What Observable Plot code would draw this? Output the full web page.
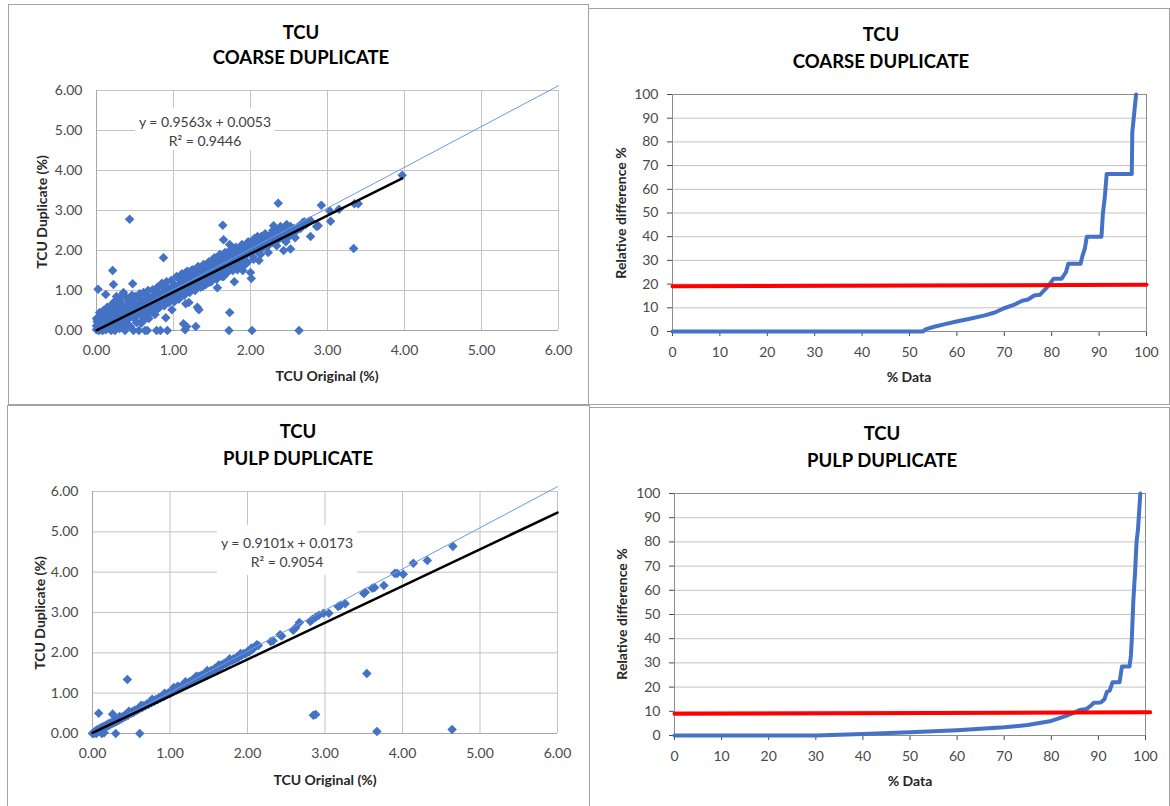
<!DOCTYPE html>
<html>
<head>
<meta charset="utf-8">
<script src="https://cdn.jsdelivr.net/npm/d3@7"></script>
<script src="https://cdn.jsdelivr.net/npm/@observablehq/plot@0.6"></script>
<style>
  body { margin: 0; background: #fff; font-family: Lato, "Open Sans", sans-serif; }
  #page { position: relative; width: 1170px; height: 806px; overflow: hidden; background: #fff; }
  .panel { position: absolute; border: 1px solid #a3a3a3; box-sizing: border-box; background: #fff; }
  .chart { position: absolute; }
  .chart svg { display: block; }
  .txt { position: absolute; white-space: nowrap; transform: translate(-50%, -50%); }
  .title { font-weight: bold; font-size: 18.5px; color: #000; }
  .axis-title { font-weight: bold; font-size: 14px; color: #262626; }
  .rot { transform: translate(-50%, -50%) rotate(-90deg); }
  .eq { position: absolute; background: #fff; color: #404040; font-size: 14px; line-height: 19px; text-align: center; box-sizing: border-box; }
</style>
</head>
<body>
<div id="page"></div>
<script>
// ---- scatter: TCU original vs duplicate (%) ----
const scatterTicks = [0, 1, 2, 3, 4, 5, 6];

// coarse duplicate pairs [original, duplicate]
const coarsePairs = [
  [0.00,0.02],[0.00,0.12],[0.00,0.30],[0.01,0.10],[0.01,0.22],[0.02,0.05],[0.02,0.25],[0.02,1.03],[0.03,0.15],[0.03,0.00],
  [0.04,0.32],[0.05,0.08],[0.05,0.20],[0.06,0.02],[0.07,0.12],[0.08,0.28],[0.08,0.00],[0.09,0.18],[0.10,0.05],[0.10,0.35],
  [0.11,0.14],[0.12,0.22],[0.12,0.02],[0.12,0.90],[0.13,0.30],[0.14,0.10],[0.15,0.18],[0.15,0.40],[0.16,0.05],[0.17,0.25],
  [0.18,0.12],[0.18,0.33],[0.19,0.00],[0.20,0.20],[0.21,0.28],[0.21,1.50],[0.22,0.08],[0.22,0.42],[0.22,1.15],[0.23,0.18],
  [0.24,0.30],[0.24,0.00],[0.25,0.55],[0.26,0.22],[0.27,0.38],[0.28,0.12],[0.28,0.62],[0.29,0.30],[0.30,0.45],[0.30,0.05],
  [0.31,0.25],[0.32,0.35],[0.32,0.70],[0.33,0.15],[0.34,0.42],[0.35,0.30],[0.35,0.95],[0.36,0.52],[0.37,0.22],[0.37,0.00],
  [0.38,0.40],[0.39,0.60],[0.40,0.35],[0.40,0.48],[0.41,0.28],[0.42,0.55],[0.42,0.75],[0.43,0.40],[0.43,2.78],[0.44,0.10],
  [0.45,0.50],[0.45,0.62],[0.46,0.35],[0.47,0.45],[0.47,1.17],[0.48,0.58],[0.48,0.00],[0.49,0.30],[0.50,0.52],[0.50,0.68],
  [0.51,0.45],[0.52,0.20],[0.53,0.55],[0.54,0.62],[0.55,0.48],[0.55,0.82],[0.55,0.00],[0.57,0.58],[0.58,0.40],[0.58,0.70],
  [0.59,0.52],[0.60,0.60],[0.60,0.25],[0.61,0.75],[0.62,0.55],[0.63,0.65],[0.63,0.00],[0.64,0.45],[0.65,0.70],[0.66,0.62],
  [0.66,0.00],[0.67,0.85],[0.68,0.58],[0.68,0.30],[0.69,0.72],[0.70,0.65],[0.71,0.80],[0.72,0.68],[0.73,0.50],[0.74,0.75],
  [0.75,0.90],[0.75,0.62],[0.76,0.40],[0.77,0.78],[0.78,0.70],[0.78,0.00],[0.79,0.85],[0.80,0.75],[0.80,0.55],[0.81,0.95],
  [0.82,0.80],[0.83,0.72],[0.83,0.00],[0.84,0.88],[0.85,0.82],[0.85,1.18],[0.86,0.65],[0.87,0.92],[0.87,1.82],[0.88,0.85],
  [0.89,1.00],[0.90,0.78],[0.90,0.32],[0.91,0.95],[0.92,0.88],[0.92,0.00],[0.93,1.05],[0.94,0.90],[0.95,0.98],[0.96,0.82],
  [0.97,1.02],[0.98,0.95],[0.98,0.52],[0.99,1.10],[1.00,0.92],[1.00,1.00],[1.01,1.15],[1.02,0.98],[1.03,1.05],[1.04,0.85],
  [1.05,1.12],[1.06,1.00],[1.07,1.30],[1.08,1.05],[1.09,1.18],[1.10,1.08],[1.10,0.90],[1.11,1.25],[1.12,1.12],[1.13,1.35],
  [1.13,0.17],[1.14,1.05],[1.15,1.20],[1.15,0.02],[1.16,1.45],[1.16,0.67],[1.17,1.15],[1.17,0.10],[1.18,1.28],[1.19,1.02],
  [1.20,1.22],[1.20,0.70],[1.21,1.35],[1.22,1.18],[1.23,1.50],[1.24,1.25],[1.25,1.10],[1.26,1.30],[1.27,1.42],[1.28,1.22],
  [1.29,1.35],[1.29,0.10],[1.30,1.28],[1.31,1.48],[1.31,0.58],[1.32,1.18],[1.33,1.32],[1.33,0.52],[1.34,1.40],[1.35,1.25],
  [1.36,1.50],[1.37,1.38],[1.38,1.10],[1.39,1.45],[1.40,1.35],[1.41,1.52],[1.42,1.42],[1.43,1.30],[1.44,1.55],[1.45,1.48],
  [1.46,1.20],[1.47,1.60],[1.48,1.45],[1.49,1.72],[1.50,1.52],[1.50,1.38],[1.51,1.62],[1.52,1.48],[1.53,1.75],[1.54,1.55],
  [1.55,1.40],[1.56,1.68],[1.57,1.58],[1.57,1.07],[1.58,1.80],[1.59,1.62],[1.60,1.50],[1.61,1.72],[1.62,1.85],[1.63,1.65],
  [1.64,1.55],[1.64,2.63],[1.65,1.78],[1.65,2.27],[1.65,1.35],[1.66,1.68],[1.67,1.40],[1.68,1.75],[1.70,1.82],[1.71,1.65],
  [1.72,1.90],[1.72,0.00],[1.73,0.45],[1.73,2.15],[1.74,1.75],[1.75,1.60],[1.76,1.85],[1.78,1.78],[1.79,1.95],[1.79,1.22],
  [1.80,1.70],[1.82,1.88],[1.83,1.52],[1.84,1.80],[1.85,2.00],[1.87,1.90],[1.88,1.75],[1.90,2.05],[1.90,1.50],[1.91,1.92],
  [1.92,1.82],[1.94,2.10],[1.95,1.98],[1.96,1.70],[1.98,2.05],[2.00,1.95],[2.00,2.20],[2.00,1.45],[2.01,1.30],[2.02,0.00],
  [2.02,2.08],[2.03,1.85],[2.05,2.30],[2.06,2.15],[2.08,2.00],[2.10,2.22],[2.11,1.75],[2.12,2.12],[2.14,2.35],[2.15,2.05],
  [2.17,2.25],[2.18,2.18],[2.20,2.30],[2.22,2.10],[2.24,2.25],[2.26,2.40],[2.28,2.20],[2.30,2.62],[2.31,2.30],[2.33,2.45],
  [2.35,2.25],[2.36,3.18],[2.37,2.55],[2.38,2.38],[2.40,2.48],[2.42,2.30],[2.43,2.00],[2.44,2.58],[2.45,2.40],[2.47,2.65],
  [2.48,2.50],[2.50,2.35],[2.52,2.60],[2.52,2.04],[2.54,2.45],[2.56,2.55],[2.58,2.32],[2.60,2.50],[2.62,2.60],[2.63,0.00],
  [2.65,2.55],[2.68,2.70],[2.70,2.72],[2.72,2.65],[2.75,2.72],[2.78,2.75],[2.78,2.35],[2.86,2.60],[2.88,2.62],[2.92,3.13],
  [3.03,2.99],[3.04,2.73],[3.15,3.03],[3.34,2.05],[3.35,3.17],[3.40,3.17],[3.97,3.88],
  [0.04,0.45],[0.06,0.38],[0.09,0.50],[0.14,0.58],[0.17,0.48],[0.20,0.65],[0.23,0.72],[0.26,0.85],[0.29,0.78],[0.31,0.58],
  [0.33,0.88],[0.36,0.12],[0.39,0.82],[0.41,0.15],[0.44,0.78],[0.46,0.88],[0.50,0.85],[0.52,0.35],[0.56,0.92],[0.58,0.18],
  [0.61,0.95],[0.64,0.30],[0.67,1.00],[0.70,0.45],[0.73,1.02],[0.76,0.55],[0.79,1.08],[0.82,0.58],[0.86,1.10],[0.88,0.62],
  [0.91,1.22],[0.94,0.70],[0.97,1.25],[1.01,0.72],[1.04,1.35],[1.07,0.78],[1.11,1.42],[1.14,0.88],[1.18,1.48],[1.21,0.95],
  [1.25,1.52],[1.28,1.00],[1.32,1.60],[1.35,1.08],[1.39,1.65],[1.42,1.15],[1.46,1.72],[1.49,1.22],[1.53,1.82],[1.56,1.28],
  [1.60,1.90],[1.63,1.35],[1.67,1.95],[1.70,1.45],[1.74,2.02],[1.77,1.50],[1.81,2.08],[1.86,1.60],[1.89,2.15],[1.93,1.65],
  [1.97,2.22],[2.04,1.78],[2.09,2.35],[2.13,1.90],[2.19,2.42],[2.23,1.95],[2.29,2.50],[2.34,2.12],[2.39,2.60],[2.46,2.22]
];

// pulp duplicate pairs [original, duplicate]
const pulpPairs = [
  [0.00,0.00],[0.01,0.02],[0.02,0.00],[0.03,0.05],[0.04,0.03],[0.05,0.08],[0.05,0.00],[0.06,0.04],[0.07,0.10],[0.08,0.06],
  [0.08,0.50],[0.09,0.12],[0.10,0.09],[0.11,0.14],[0.12,0.10],[0.12,0.00],[0.13,0.16],[0.14,0.13],[0.15,0.18],[0.15,0.02],
  [0.16,0.14],[0.17,0.20],[0.18,0.17],[0.19,0.22],[0.20,0.19],[0.21,0.25],[0.22,0.21],[0.24,0.27],[0.25,0.24],[0.26,0.48],
  [0.27,0.30],[0.28,0.27],[0.30,0.33],[0.30,0.00],[0.31,0.30],[0.33,0.36],[0.34,0.33],[0.36,0.39],[0.37,0.36],[0.39,0.42],
  [0.40,0.40],[0.42,0.46],[0.43,0.42],[0.45,0.49],[0.45,1.34],[0.46,0.45],[0.48,0.52],[0.50,0.50],[0.52,0.55],[0.53,0.52],
  [0.55,0.58],[0.57,0.57],[0.59,0.62],[0.60,0.60],[0.61,0.00],[0.62,0.65],[0.64,0.64],[0.66,0.69],[0.68,0.68],[0.70,0.73],
  [0.72,0.72],[0.74,0.77],[0.76,0.76],[0.78,0.81],[0.80,0.80],[0.82,0.85],[0.84,0.84],[0.86,0.89],[0.88,0.88],[0.90,0.93],
  [0.92,0.92],[0.94,0.97],[0.96,0.96],[0.98,1.01],[1.00,0.99],[1.02,1.05],[1.04,1.04],[1.06,1.10],[1.08,1.08],[1.10,1.17],
  [1.11,1.12],[1.13,1.16],[1.15,1.15],[1.17,1.20],[1.19,1.19],[1.21,1.24],[1.23,1.23],[1.25,1.28],[1.27,1.27],[1.29,1.33],
  [1.31,1.31],[1.33,1.36],[1.35,1.35],[1.37,1.42],[1.39,1.40],[1.41,1.45],[1.43,1.43],[1.45,1.48],[1.47,1.47],[1.49,1.52],
  [1.51,1.51],[1.53,1.56],[1.55,1.55],[1.58,1.62],[1.60,1.60],[1.62,1.66],[1.64,1.65],[1.66,1.70],[1.68,1.69],[1.70,1.74],
  [1.72,1.73],[1.74,1.78],[1.76,1.77],[1.78,1.82],[1.80,1.81],[1.82,1.85],[1.84,1.84],[1.86,1.89],[1.88,1.88],[1.90,1.93],
  [1.92,1.93],[1.95,1.98],[1.97,1.97],[2.00,2.03],[2.02,2.02],[2.04,2.07],[2.06,2.08],[2.08,2.12],[2.10,2.15],[2.12,2.20],
  [2.14,2.18],[2.30,2.28],[2.33,2.30],[2.42,2.45],[2.44,2.42],[2.59,2.56],[2.62,2.62],[2.67,2.75],[2.81,2.78],[2.84,2.83],
  [2.85,0.45],[2.88,2.88],[2.88,0.47],[2.92,2.93],[2.98,2.98],[3.05,2.98],[3.17,3.15],[3.20,3.18],[3.26,3.22],[3.50,3.47],
  [3.52,3.50],[3.54,1.49],[3.61,3.60],[3.64,3.62],[3.67,0.05],[3.76,3.67],[3.90,3.97],[3.93,3.97],[4.01,3.95],[4.14,4.22],
  [4.32,4.29],[4.64,0.10],[4.65,4.64],
  [0.35,0.42],[0.47,0.55],[0.63,0.70],[0.77,0.85],[0.93,1.00],[1.05,1.14],[1.20,1.28],[1.34,1.42],[1.48,1.56],[1.63,1.70],
  [1.77,1.85],[1.91,1.98],[2.05,2.12]
];

// 1:1 reference line and least-squares fits (from the printed equations)
const parityX = [0, 6];
const parityY = [0, 6.12];
const coarseFit = { slope: 0.9563, intercept: 0.0053, r2: 0.9446, xMax: 3.97 };
const pulpFit   = { slope: 0.9101, intercept: 0.0173, r2: 0.9054, xMax: 6.0 };

// ---- cumulative relative difference curves ----
const pctTicks = [0, 10, 20, 30, 40, 50, 60, 70, 80, 90, 100];

const coarsePctData = [0, 52.8, 53.5, 55.2, 57.5, 59.9, 62.5, 65.9, 68, 69.8, 72, 73.8, 75, 76.3, 77.5, 78.7, 79.5, 80.4, 82.1, 83, 83.5, 86.1, 86.5, 87, 87.4, 90.5, 90.8, 91.2, 91.6, 96.9, 97, 97.3, 97.8];
const coarseRelDiff = [0, 0, 1, 2, 3.1, 4.2, 5.3, 6.8, 8, 9.7, 11.2, 13, 13.5, 15.2, 15.5, 18, 19.8, 22.3, 22.3, 25, 28.6, 28.6, 32, 35, 40, 40, 49.8, 56.5, 66.5, 66.5, 84, 90, 100];
const coarseLimitX = [0, 100];
const coarseLimitY = [19.1, 19.7];

const pulpPctData = [0, 30, 40, 50, 60, 70, 75, 80, 83, 85.5, 86, 87.5, 88.5, 89, 90.5, 91.3, 91.8, 92.4, 93, 94.5, 95, 96.6, 96.9, 97.1, 97.4, 97.8, 98.1, 98.4, 98.9];
const pulpRelDiff = [0, 0, 0.6, 1.3, 2.2, 3.4, 4.3, 6.0, 8, 10, 10.5, 11, 12.5, 13.5, 13.6, 15, 18, 18.5, 22, 22, 28.5, 28.5, 33, 40, 55, 68, 80, 85, 100];
const pulpLimitX = [0, 101];
const pulpLimitY = [9.0, 9.6];

const BLUE = "#4472C4";
const page = document.getElementById("page");

function addPanel(left, top, width, height) {
  const d = document.createElement("div");
  d.className = "panel";
  Object.assign(d.style, { left: left + "px", top: top + "px", width: width + "px", height: height + "px" });
  page.appendChild(d);
}
function addText(text, cx, cy, cls) {
  const d = document.createElement("div");
  d.className = "txt " + cls;
  d.textContent = text;
  Object.assign(d.style, { left: cx + "px", top: cy + "px" });
  page.appendChild(d);
}
function addChart(svg, left, top) {
  const d = document.createElement("div");
  d.className = "chart";
  Object.assign(d.style, { left: left + "px", top: top + "px" });
  d.appendChild(svg);
  page.appendChild(d);
}
function addEquation(fit, left, top, width, height, padTop) {
  const d = document.createElement("div");
  d.className = "eq";
  Object.assign(d.style, { left: left + "px", top: top + "px", width: width + "px", height: height + "px", paddingTop: padTop + "px" });
  d.innerHTML = `y = ${fit.slope.toFixed(4)}x + ${fit.intercept.toFixed(4)}<br>R² = ${fit.r2.toFixed(4)}`;
  page.appendChild(d);
}

const baseStyle = { fontFamily: "Lato, 'Open Sans', sans-serif", fontSize: "14px", color: "#4a4a4a", background: "transparent", overflow: "visible" };

function scatterChart(pairs, fit, m) {
  const fitLine = [[0, fit.intercept], [fit.xMax, fit.slope * fit.xMax + fit.intercept]];
  const parity = parityX.map((x, i) => [x, parityY[i]]);
  return Plot.plot({
    width: m.width, height: m.height,
    marginLeft: m.left, marginRight: m.right, marginTop: m.top, marginBottom: m.bottom,
    style: baseStyle,
    x: { domain: [0, 6], ticks: scatterTicks, tickFormat: d => d.toFixed(2), tickSize: 0, tickPadding: 15, label: null },
    y: { domain: [0, 6], ticks: scatterTicks, tickFormat: d => d.toFixed(2), tickSize: 0, tickPadding: 14, label: null },
    marks: [
      Plot.ruleX(scatterTicks.slice(1), { stroke: "#c4c4c4", strokeWidth: 1 }),
      Plot.ruleY(scatterTicks.slice(1), { stroke: "#c4c4c4", strokeWidth: 1 }),
      Plot.ruleX([0], { stroke: "#a6a6a6", strokeWidth: 1 }),
      Plot.ruleY([0], { stroke: "#a6a6a6", strokeWidth: 1 }),
      Plot.dot(pairs, { x: d => d[0], y: d => d[1], symbol: "diamond2", r: 4.3, fill: BLUE, stroke: null }),
      Plot.line(parity, { x: d => d[0], y: d => d[1], stroke: "#6a9ae0", strokeWidth: 1 }),
      Plot.line(fitLine, { x: d => d[0], y: d => d[1], stroke: "#000", strokeWidth: 2.5 })
    ]
  });
}

function cumulativeChart(xs, ys, limX, limY, m) {
  const curve = xs.map((x, i) => [x, ys[i]]);
  const limit = limX.map((x, i) => [x, limY[i]]);
  return Plot.plot({
    width: m.width, height: m.height,
    marginLeft: m.left, marginRight: m.right, marginTop: m.top, marginBottom: m.bottom,
    style: baseStyle,
    x: { domain: [0, 100], ticks: pctTicks, tickSize: 5, tickPadding: 11, label: null },
    y: { domain: [0, 100], ticks: pctTicks, tickSize: 5, tickPadding: 9, label: null },
    marks: [
      Plot.ruleY(pctTicks.slice(1, -1), { stroke: "#c4c4c4", strokeWidth: 1 }),
      Plot.frame({ stroke: "#8c8c8c", strokeWidth: 1 }),
      Plot.line(curve, { x: d => d[0], y: d => d[1], stroke: BLUE, strokeWidth: 4, strokeLinejoin: "round" }),
      Plot.line(limit, { x: d => d[0], y: d => d[1], stroke: "#ff0000", strokeWidth: 4 })
    ]
  });
}

// panel frames
addPanel(8, 4, 581, 401);
addPanel(588, 8, 582, 397);
addPanel(7, 405, 583, 405);
addPanel(589, 407, 581, 403);

// top-left: coarse duplicate scatter
addChart(scatterChart(coarsePairs, coarseFit, { width: 580, height: 400, left: 88, right: 30, top: 86, bottom: 74 }), 8, 4);
addEquation(coarseFit, 135, 108, 140, 42, 4);
addText("TCU", 301, 32, "title");
addText("COARSE DUPLICATE", 301, 57, "title");
addText("TCU Original (%)", 327, 375, "axis-title");
addText("TCU Duplicate (%)", 41, 212, "axis-title rot");

// top-right: coarse duplicate relative difference
addChart(cumulativeChart(coarsePctData, coarseRelDiff, coarseLimitX, coarseLimitY, { width: 582, height: 396, left: 84, right: 24, top: 86, bottom: 73 }), 588, 8);
addText("TCU", 881, 34, "title");
addText("COARSE DUPLICATE", 881, 61, "title");
addText("% Data", 909, 376, "axis-title");
addText("Relative difference %", 620, 213, "axis-title rot");

// bottom-left: pulp duplicate scatter
addChart(scatterChart(pulpPairs, pulpFit, { width: 583, height: 402, left: 85, right: 33, top: 87, bottom: 73 }), 7, 404);
addEquation(pulpFit, 217, 525, 140, 50, 8);
addText("TCU", 298, 431, "title");
addText("PULP DUPLICATE", 298, 458, "title");
addText("TCU Original (%)", 325, 779, "axis-title");
addText("TCU Duplicate (%)", 39, 613, "axis-title rot");

// bottom-right: pulp duplicate relative difference
addChart(cumulativeChart(pulpPctData, pulpRelDiff, pulpLimitX, pulpLimitY, { width: 581, height: 399, left: 85, right: 25, top: 86, bottom: 71 }), 589, 407);
addText("TCU", 882, 433, "title");
addText("PULP DUPLICATE", 882, 460, "title");
addText("% Data", 910, 780, "axis-title");
addText("Relative difference %", 621, 614, "axis-title rot");
</script>
</body>
</html>
